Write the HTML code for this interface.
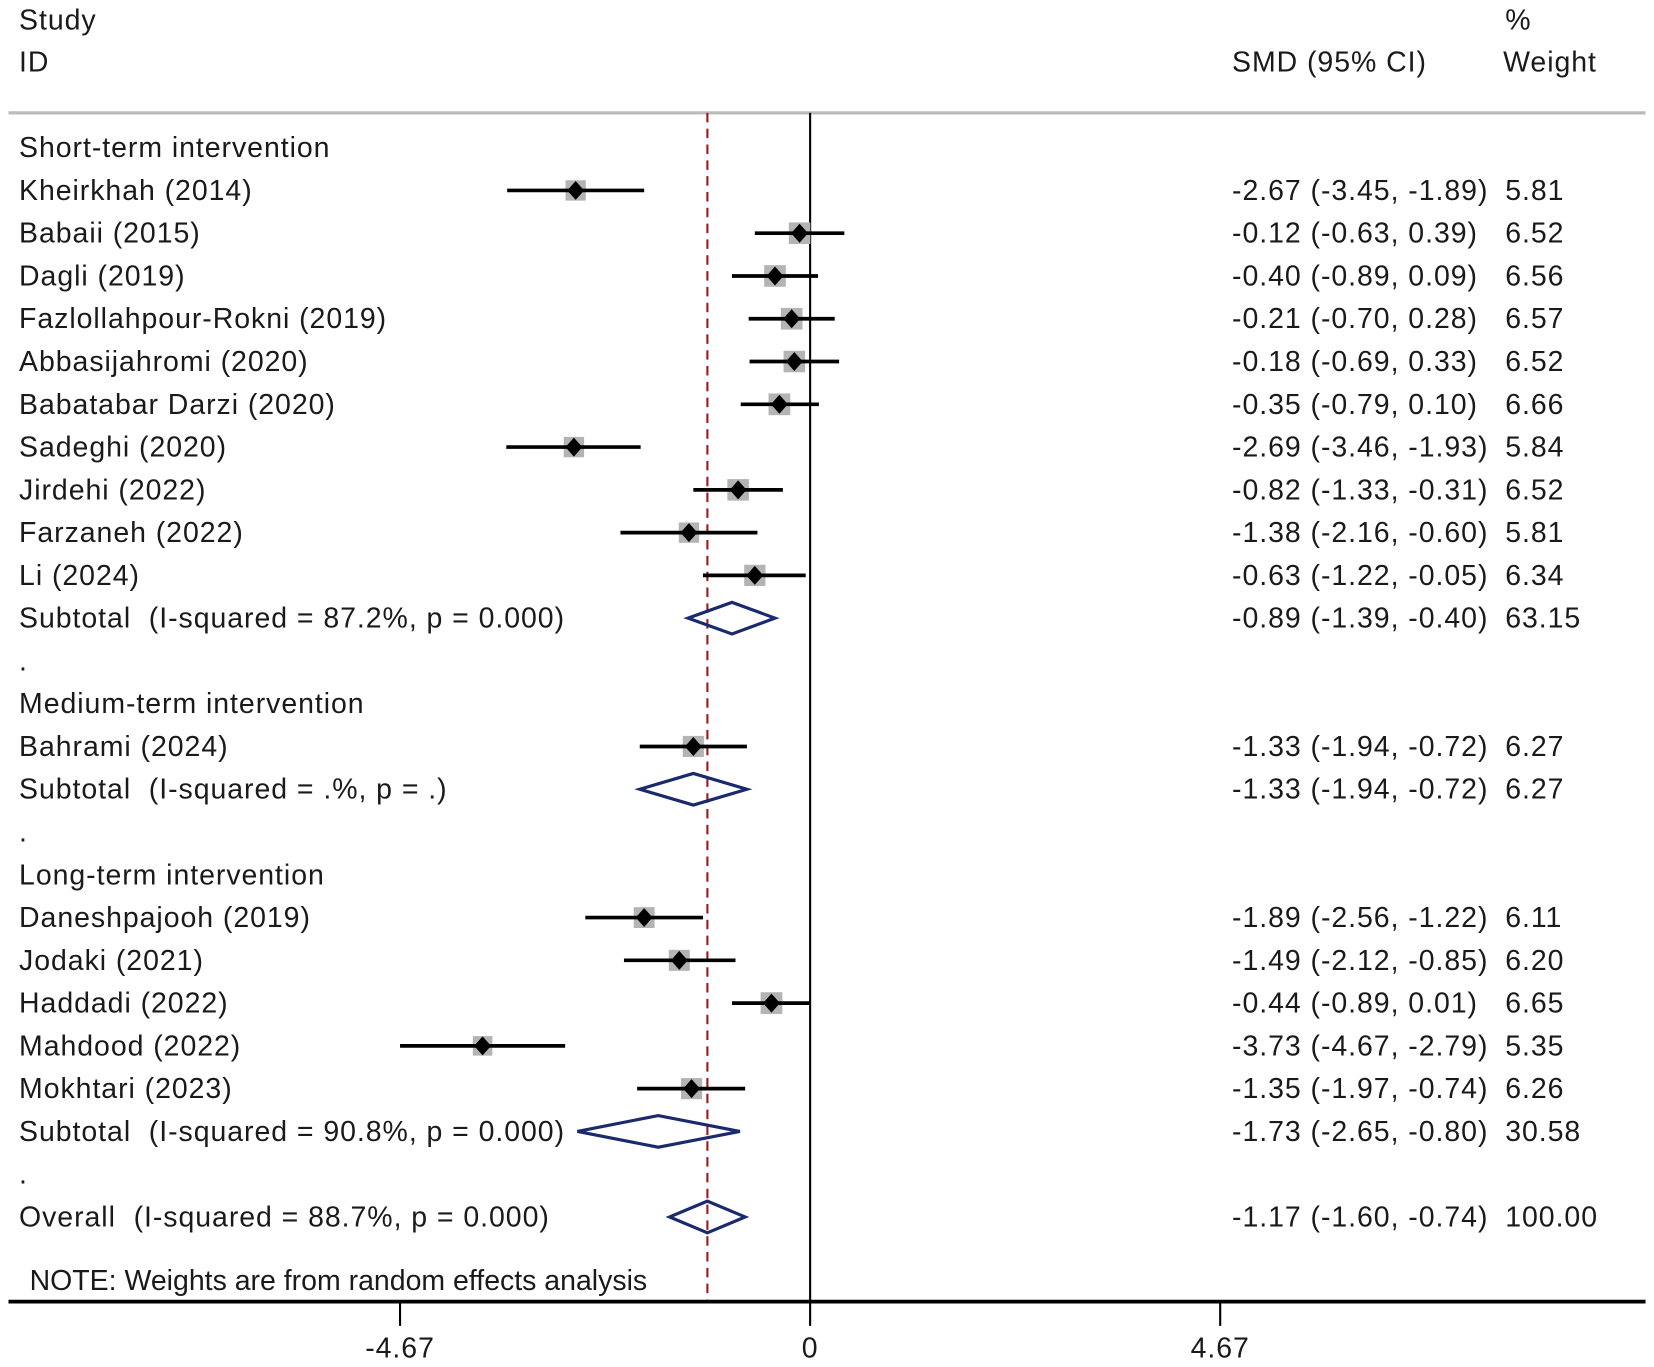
<!DOCTYPE html>
<html><head><meta charset="utf-8"><style>
html,body{margin:0;padding:0;background:#fff;}
svg{display:block;}
text{font-family:"Liberation Sans",Arial,sans-serif;font-size:27px;letter-spacing:0.9px;fill:#1a1a1a;white-space:pre;}
</style></head><body>
<svg id="chart" width="1654" height="1367" viewBox="0 0 1568 1296" xmlns="http://www.w3.org/2000/svg">
<text x="18" y="28">Study</text>
<text x="18" y="68">ID</text>
<text x="1168" y="68">SMD (95% CI)</text>
<text x="1427" y="28">%</text>
<text x="1425" y="68">Weight</text>
<line x1="8" y1="107" x2="1560" y2="107" stroke="#bbb" stroke-width="3"/>
<g id="plot"></g>
<text x="28" y="1223" style="letter-spacing:0">NOTE: Weights are from random effects analysis</text>
</svg>
<script>
const labels = ["Short-term intervention","Kheirkhah (2014)","Babaii (2015)","Dagli (2019)","Fazlollahpour-Rokni (2019)","Abbasijahromi (2020)","Babatabar Darzi (2020)","Sadeghi (2020)","Jirdehi (2022)","Farzaneh (2022)","Li (2024)","Subtotal  (I-squared = 87.2%, p = 0.000)",".","Medium-term intervention","Bahrami (2024)","Subtotal  (I-squared = .%, p = .)",".","Long-term intervention","Daneshpajooh (2019)","Jodaki (2021)","Haddadi (2022)","Mahdood (2022)","Mokhtari (2023)","Subtotal  (I-squared = 90.8%, p = 0.000)",".","Overall  (I-squared = 88.7%, p = 0.000)"];
const kinds = ["h","s","s","s","s","s","s","s","s","s","s","d","b","h","s","d","b","h","s","s","s","s","s","d","b","d"];
const est = [null,-2.67,-0.12,-0.40,-0.21,-0.18,-0.35,-2.69,-0.82,-1.38,-0.63,-0.89,null,null,-1.33,-1.33,null,null,-1.89,-1.49,-0.44,-3.73,-1.35,-1.73,null,-1.17];
const lo = [null,-3.45,-0.63,-0.89,-0.70,-0.69,-0.79,-3.46,-1.33,-2.16,-1.22,-1.39,null,null,-1.94,-1.94,null,null,-2.56,-2.12,-0.89,-4.67,-1.97,-2.65,null,-1.60];
const hi = [null,-1.89,0.39,0.09,0.28,0.33,0.10,-1.93,-0.31,-0.60,-0.05,-0.40,null,null,-0.72,-0.72,null,null,-1.22,-0.85,0.01,-2.79,-0.74,-0.80,null,-0.74];
const weights = [null,5.81,6.52,6.56,6.57,6.52,6.66,5.84,6.52,5.81,6.34,63.15,null,null,6.27,6.27,null,null,6.11,6.20,6.65,5.35,6.26,30.58,null,100.00];
const ticks = [-4.67,0,4.67];
const overallEst = -1.17;

const NS="http://www.w3.org/2000/svg";
const g=document.getElementById('plot');
const X=v=>768+v*83.25;
const rowY=i=>140+i*40.55;
function mk(tag,attrs){const e=document.createElementNS(NS,tag);for(const k in attrs)e.setAttribute(k,attrs[k]);g.appendChild(e);return e;}
const f2=v=>v.toFixed(2);
let l=mk('line',{x1:X(0),y1:107,x2:X(0),y2:1234,stroke:'#000','stroke-width':2});


l=mk('line',{x1:X(overallEst),y1:107,x2:X(overallEst),y2:1234,stroke:'#9b1b1b','stroke-width':2,'stroke-dasharray':'9,6'});


labels.forEach((lab,i)=>{
  const y=rowY(i);
  const t=mk('text',{x:18,y:y+9});t.textContent=lab;
  
  
  if(est[i]===null)return;
  const v=mk('text',{x:1168,y:y+9});v.textContent=f2(est[i])+' ('+f2(lo[i])+', '+f2(hi[i])+')';
  
  
  const w=mk('text',{x:1427,y:y+9});w.textContent=f2(weights[i]);
  
  
  if(kinds[i]==='s'){
    const s=Math.sqrt(weights[i])*8;
    const r=mk('rect',{x:X(est[i])-s/2,y:y-s/2,width:s,height:s,fill:'#b4b4b4'});
    
    
    const c=mk('line',{x1:X(lo[i]),y1:y,x2:X(hi[i]),y2:y,stroke:'#000','stroke-width':3.5});
    
    
    const p=mk('polygon',{points:`${X(est[i])},${y-9} ${X(est[i])+8},${y} ${X(est[i])},${y+9} ${X(est[i])-8},${y}`,fill:'#000'});
    
    
  } else {
    const d=mk('polygon',{points:`${X(lo[i])},${y} ${X(est[i])},${y-15} ${X(hi[i])},${y} ${X(est[i])},${y+15}`,fill:'none',stroke:'#1a2a6c','stroke-width':3});
    
    
  }
});
l=mk('line',{x1:8,y1:1234,x2:1560,y2:1234,stroke:'#000','stroke-width':3.5});


ticks.forEach(t=>{
  const tk=mk('line',{x1:X(t),y1:1234,x2:X(t),y2:1257,stroke:'#000','stroke-width':2});
  
  
  const tl=mk('text',{x:X(t),y:1287,'text-anchor':'middle'});tl.textContent=String(t);
  
  
});
</script>
</body></html>
